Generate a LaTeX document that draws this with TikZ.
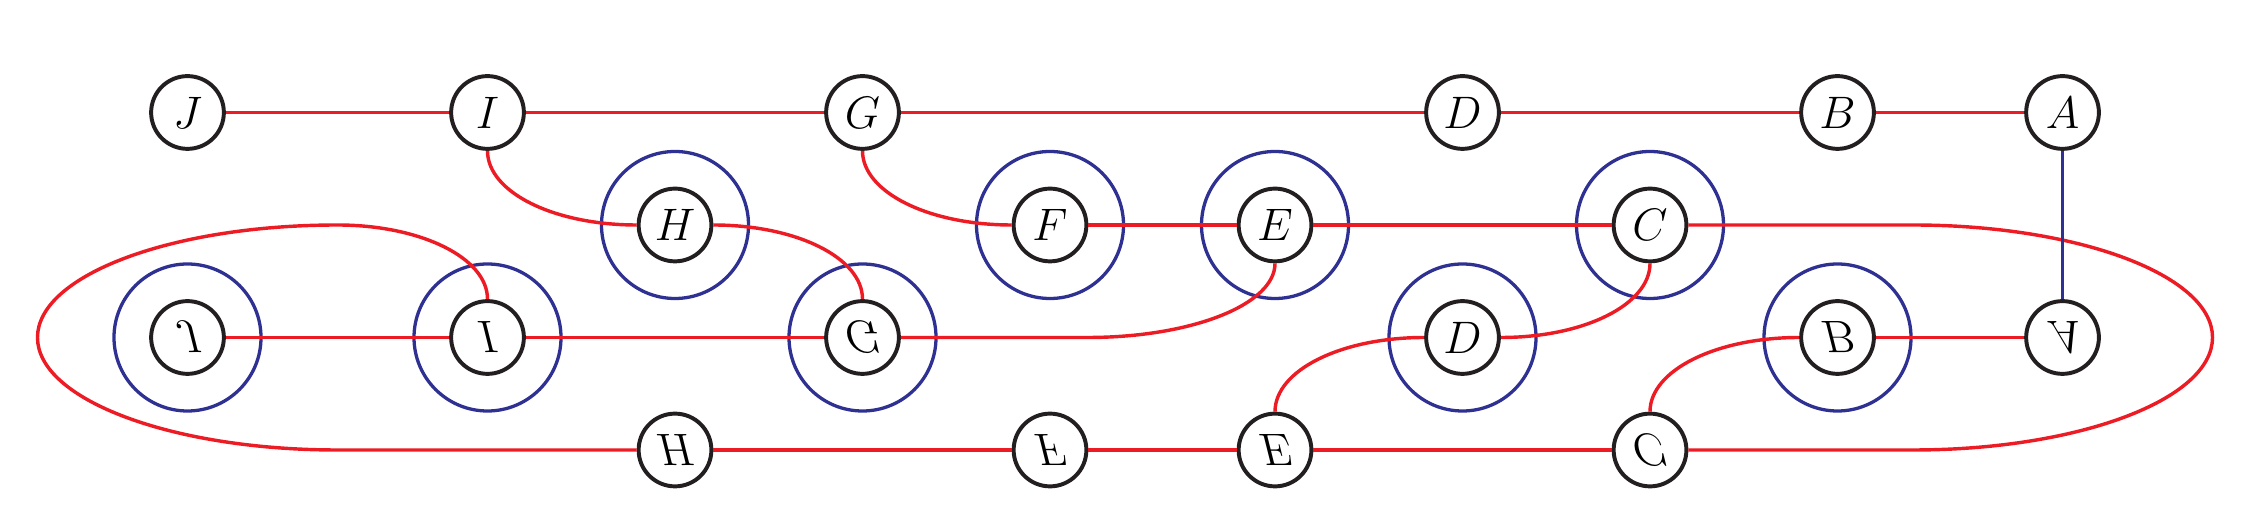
\documentclass[tikz,border=0pt]{standalone}
\usepackage{graphicx}
\definecolor{myred}{HTML}{ED1C24}
\definecolor{myblue}{HTML}{2E3192}
\definecolor{myblack}{HTML}{231F20}
\newcommand{\flipv}[1]{\scalebox{1}[-1]{$#1$}}
\tikzset{
  vtx/.style={circle, draw=myblack, line width=1.5pt, fill=white, minimum size=0.97cm, inner sep=0pt, font=\fontsize{19}{19}\selectfont},
  halo/.style={circle, draw=myblue, line width=1.25pt, minimum size=1.96cm, inner sep=0pt},
  redline/.style={draw=myred, line width=1.3pt},
  blueline/.style={draw=myblue, line width=1pt},
}
\begin{document}
\begin{tikzpicture}
\useasboundingbox (0,-0.0133) rectangle (30,7);
% blue halos
\node[halo] (hH) at (9,4) {};
\node[halo] (hF) at (14,4) {};
\node[halo] (hE) at (17,4) {};
\node[halo] (hC) at (22,4) {};
\node[halo] (hJr) at (2.5,2.5) {};
\node[halo] (hIr) at (6.5,2.5) {};
\node[halo] (hGr) at (11.5,2.5) {};
\node[halo] (hDr) at (19.5,2.5) {};
\node[halo] (hBr) at (24.5,2.5) {};
% row 1
\node[vtx] (J) at (2.5,5.5) {$J$};
\node[vtx] (I) at (6.5,5.5) {$I$};
\node[vtx] (G) at (11.5,5.5) {$G$};
\node[vtx] (D) at (19.5,5.5) {$D$};
\node[vtx] (B) at (24.5,5.5) {$B$};
\node[vtx] (A) at (27.5,5.5) {$A$};
% row 2
\node[vtx] (H) at (9,4) {$H$};
\node[vtx] (F) at (14,4) {$F$};
\node[vtx] (E) at (17,4) {$E$};
\node[vtx] (C) at (22,4) {$C$};
% row 3
\node[vtx] (Jr) at (2.5,2.5) {\flipv{J}};
\node[vtx] (Ir) at (6.5,2.5) {\flipv{I}};
\node[vtx] (Gr) at (11.5,2.5) {\flipv{G}};
\node[vtx] (Dr) at (19.5,2.5) {$D$};
\node[vtx] (Br) at (24.5,2.5) {\flipv{B}};
\node[vtx] (Ar) at (27.5,2.5) {\flipv{A}};
% row 4
\node[vtx] (Hr) at (9,1) {\flipv{H}};
\node[vtx] (Fr) at (14,1) {\flipv{F}};
\node[vtx] (Er) at (17,1) {\flipv{E}};
\node[vtx] (Cr) at (22,1) {\flipv{C}};
% helper coordinates
\coordinate (lt) at (4.5,4);
\coordinate (rt) at (25.5,4);
\coordinate (em) at (14.5,2.5);
% straight red edges
\draw[redline] (J) -- (I);
\draw[redline] (I) -- (G);
\draw[redline] (G) -- (D);
\draw[redline] (D) -- (B);
\draw[redline] (B) -- (A);
\draw[redline] (F) -- (E);
\draw[redline] (E) -- (C);
\draw[redline] (Jr) -- (Ir);
\draw[redline] (Ir) -- (Gr);
\draw[redline] (Br) -- (Ar);
\draw[redline] (Hr) -- (Fr);
\draw[redline] (Fr) -- (Er);
\draw[redline] (Er) -- (Cr);
% curved red edges (quarter ellipses)
\draw[redline] (I.south) .. controls +(0,-0.552) and +(-1.105,0) .. (H.west);
\draw[redline] (G.south) .. controls +(0,-0.552) and +(-1.105,0) .. (F.west);
\draw[redline] (H.east) .. controls +(1.105,0) and +(0,0.552) .. (Gr.north);
\draw[redline] (E.south) .. controls +(0,-0.552) and +(1.381,0) .. (em) -- (Gr.east);
\draw[redline] (C.south) .. controls +(0,-0.552) and +(1.105,0) .. (Dr.east);
\draw[redline] (Dr.west) .. controls +(-1.105,0) and +(0,0.552) .. (Er.north);
\draw[redline] (Br.west) .. controls +(-1.105,0) and +(0,0.552) .. (Cr.north);
% loops
\draw[redline] (Ir.north) .. controls +(0,0.552) and +(1.105,0) .. (lt) arc[start angle=90, end angle=270, x radius=4, y radius=1.5] -- (Hr.west);
\draw[redline] (C.east) -- (rt) arc[start angle=90, end angle=-90, x radius=4, y radius=1.5] -- (Cr.east);
% blue edge
\draw[blueline] (A.south) -- (Ar.north);
\end{tikzpicture}
\end{document}
